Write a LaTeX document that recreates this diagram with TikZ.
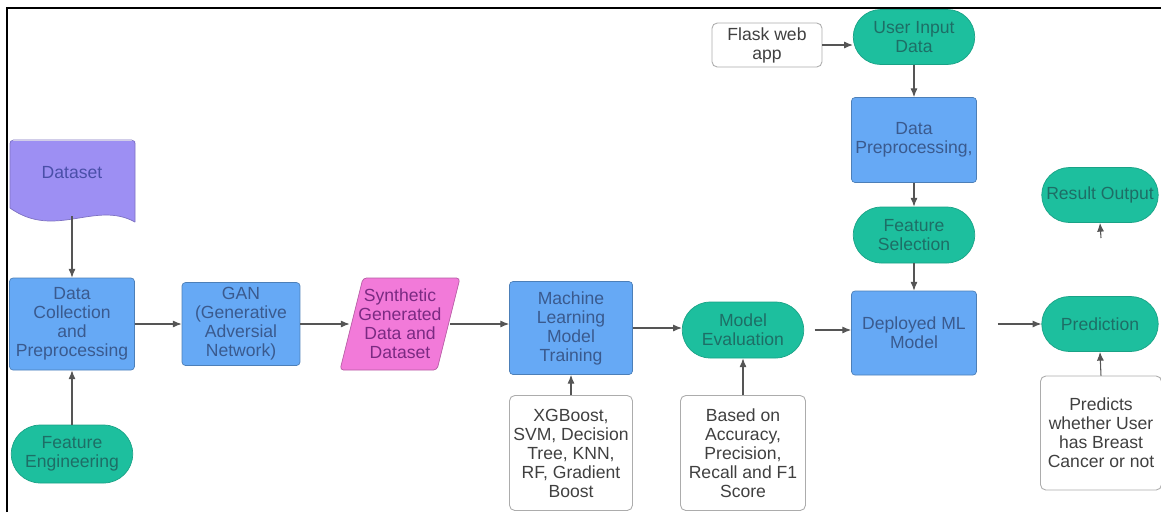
\documentclass[tikz,border=0pt]{standalone}
\usepackage{fontspec}
\setmainfont{Liberation Sans}
\usetikzlibrary{arrows.meta,shapes.misc,shapes.geometric}
\definecolor{myblue}{HTML}{66A9F5}
\definecolor{bluetxt}{HTML}{3A5A8E}
\definecolor{mygreen}{HTML}{1DBF9E}
\definecolor{greentxt}{HTML}{1D6E66}
\definecolor{mypurple}{HTML}{9D8FF3}
\definecolor{purpletxt}{HTML}{4A4FA8}
\definecolor{mypink}{HTML}{F27AD9}
\definecolor{pinktxt}{HTML}{7A2A82}
\definecolor{conncol}{HTML}{555555}
\tikzset{
  txt/.style={font=\fontsize{10}{10.8}\selectfont, align=center, inner sep=1pt},
  blueb/.style={txt, rectangle, rounded corners=2pt, fill=myblue, draw=myblue!75!black, line width=0.4pt, text=bluetxt},
  greenb/.style={txt, rounded rectangle, fill=mygreen, draw=mygreen!85!black, line width=0.4pt, text=greentxt},
  whiteb/.style={txt, rectangle, rounded corners=3pt, fill=white, draw=gray!65, line width=0.5pt, text=black!75},
  conn/.style={draw=conncol, line width=0.6pt, -{Latex[length=5pt,width=4pt]}},
}
\begin{document}
\begin{tikzpicture}[x=0.02cm,y=-0.02cm]
\useasboundingbox (0,0) rectangle (1161,512);
% frame
\draw[line width=1.1pt] (7,512) -- (7,8) -- (1161,8);

% Dataset (document shape)
\fill[mypurple] (10,208) -- (10,141) -- (135,141) -- (135,222)
  .. controls (95,200) and (55,240) .. (10,208) -- cycle;
\draw[draw=mypurple!80!black, line width=0.4pt, rounded corners=2pt]
  (10,208) -- (10,140) -- (135,140) -- (135,222);
\draw[draw=mypurple!80!black, line width=0.4pt] (10,208) .. controls (55,240) and (95,200) .. (135,222);
\node[txt, text=purpletxt] (dataset) at (72,173) {Dataset};
\coordinate (datasetb) at (72,216);

% Synthetic (parallelogram)
\draw[fill=mypink, draw=mypink!75!black, line width=0.4pt, rounded corners=2pt]
  (340,370) -- (363,278) -- (460,278) -- (437,370) -- cycle;
\node[txt, text=pinktxt, minimum width=2.0cm, minimum height=1.8cm] (syn) at (400,324)
  {Synthetic\\Generated\\Data and\\Dataset};

% blue boxes
\node[blueb, minimum width=2.5cm, minimum height=1.84cm] (dc) at (72,324) {Data\\Collection\\and\\Preprocessing};
\node[blueb, minimum width=2.36cm, minimum height=1.66cm] (gan) at (241,324) {GAN\\(Generative\\Adversial\\Network)};
\node[blueb, minimum width=2.46cm, minimum height=1.86cm] (ml) at (571,328) {Machine\\Learning\\Model\\Training};
\node[blueb, minimum width=2.5cm, minimum height=1.7cm] (dp) at (914,140) {Data\\Preprocessing,};
\node[blueb, minimum width=2.5cm, minimum height=1.68cm] (dep) at (914,333) {Deployed ML\\Model};

% green stadiums
\node[greenb, minimum width=2.5cm, minimum height=1.16cm] (fe) at (72,454) {Feature\\Engineering};
\node[greenb, minimum width=2.5cm, minimum height=1.12cm] (me) at (743,330) {Model\\Evaluation};
\node[greenb, minimum width=2.5cm, minimum height=1.1cm] (ui) at (914,37) {User Input\\Data};
\node[greenb, minimum width=2.5cm, minimum height=1.12cm] (fs) at (914,235) {Feature\\Selection};
\node[greenb, minimum width=2.4cm, minimum height=1.1cm] (ro) at (1100,195) {Result Output};
\node[greenb, minimum width=2.4cm, minimum height=1.1cm] (pr) at (1100,324) {Prediction};

% white boxes
\node[whiteb, minimum width=2.46cm, minimum height=2.3cm] (xg) at (571,453) {XGBoost,\\SVM, Decision\\Tree, KNN,\\RF, Gradient\\Boost};
\node[whiteb, minimum width=2.5cm, minimum height=2.3cm] (bo) at (743,453) {Based on\\Accuracy,\\Precision,\\Recall and F1\\Score};
\node[whiteb, minimum width=2.2cm, minimum height=0.88cm] (flask) at (767,45) {Flask web\\app};
\node[whiteb, minimum width=2.42cm, minimum height=2.28cm] (pb) at (1101,433) {Predicts\\whether User\\has Breast\\Cancer or not};
\coordinate (rostub) at (1101,238);

% connectors
\draw[conn] (datasetb) -- (dc.north);
\draw[conn] (fe.north) -- (dc.south);
\draw[conn] (dc.east) -- (gan.west);
\draw[conn] (gan.east) -- (syn.west);
\draw[conn] (syn.east) -- (ml.west |- syn.east);
\draw[conn] (ml.east) -- (me.west |- ml.east);
\draw[conn] (xg.north) -- (ml.south);
\draw[conn] (bo.north) -- (me.south);
\draw[conn, shorten <=6pt] (me.east) -- (dep.west |- me.east);
\draw[conn, shorten <=12pt] (dep.east |- pr.west) -- (pr.west);
\draw[conn] (flask.east) -- (ui.west |- flask.east);
\draw[conn] (ui.south) -- (dp.north);
\draw[conn] (dp.south) -- (fs.north);
\draw[conn] (fs.south) -- (dep.north);
\draw[conn] (pb.north) -- (pr.south);
\draw[conn] (rostub) -- (ro.south);
\end{tikzpicture}
\end{document}
